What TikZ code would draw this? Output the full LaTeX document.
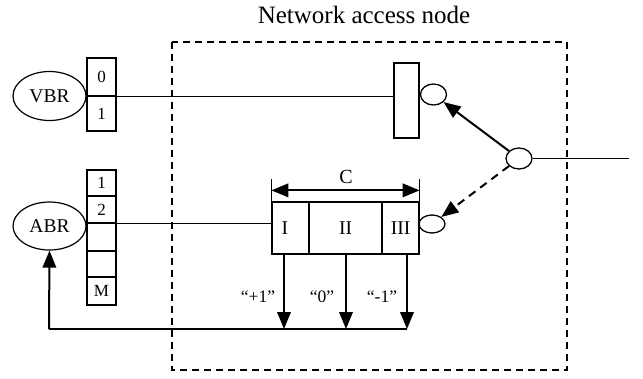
\documentclass[tikz,border=0pt]{standalone}
\usepackage{fontspec}
\setmainfont{Liberation Serif}
\usetikzlibrary{arrows.meta,shapes.geometric,calc}
\begin{document}
\begin{tikzpicture}[x=1pt,y=-1pt,
  ell/.style={draw, ellipse, line width=1.2pt, inner sep=0pt, minimum width=73pt, minimum height=49pt, font=\fontsize{19.5}{19.5}\selectfont},
  port/.style={draw, ellipse, line width=1.3pt, inner sep=0pt, minimum width=26pt, minimum height=21pt},
  cell/.style={draw, rectangle, line width=1.3pt, inner sep=0pt, minimum width=29pt, font=\fontsize{17}{17}\selectfont},
  ccell/.style={draw, rectangle, line width=1.3pt, inner sep=0pt, minimum height=52pt, font=\fontsize{19.5}{19.5}\selectfont},
  wire/.style={line width=1.1pt},
  tip/.tip={Triangle[length=17pt,width=13.5pt]},
  arr/.style={line width=2pt, -tip},
  lbl/.style={inner sep=0pt, font=\fontsize{17.5}{17.5}\selectfont}
]
\useasboundingbox (0,0) rectangle (643,378);

% title and frame
\node[anchor=base, inner sep=0pt, font=\fontsize{25}{25}\selectfont] (title) at (364,23) {Network access node};
\draw[line width=1.8pt, dash pattern=on 7pt off 5pt] (172,42) rectangle (567,370);

% VBR
\node[ell] (vbr) at (49.5,96) {VBR};
\node[cell, minimum height=38pt] (v0) at (101.5,77) {0};
\node[cell, minimum height=35pt] (v1) at (101.5,113.5) {1};

% ABR
\node[ell, minimum height=48pt] (abr) at (49.5,226) {ABR};
\node[cell, minimum height=26pt] (a1) at (101.5,183) {1};
\node[cell, minimum height=27pt] (a2) at (101.5,209.5) {2};
\node[cell, minimum height=28pt] (a3) at (101.5,237) {};
\node[cell, minimum height=26pt] (a4) at (101.5,264) {};
\node[cell, minimum height=28pt] (a5) at (101.5,291) {M};

% VBR path
\node[draw, rectangle, line width=1.3pt, inner sep=0pt, minimum width=25pt, minimum height=75pt] (tall) at (406.5,100.5) {};
\node[port] (p1) at (433.5,94.5) {};
\draw[wire] (v0.south east) -- (v0.south east -| tall.west);

% ABR path: C buffer
\node[ccell, minimum width=37pt, text width=30pt, align=left] (cI) at (290.5,228) {\hspace{6pt}I};
\node[ccell, minimum width=73pt] (cII) at (345.5,228) {II};
\node[ccell, minimum width=37pt] (cIII) at (400.5,228) {III};
\node[port, minimum height=18pt] (p2) at (432,224) {};
\draw[wire] (a2.south east) -- (a2.south east -| cI.west);

% dimension C
\draw[line width=1.3pt] (cI.north west) -- ++(0,-22);
\draw[line width=1.3pt] (cIII.north east) -- ++(0,-22);
\draw[line width=2pt, tip-tip]
  ($(cI.north west)+(0,-11)$) -- ($(cIII.north east)+(0,-11)$);
\node[inner sep=0pt, font=\fontsize{20}{20}\selectfont] (clbl) at (346,177) {C};

% switch
\node[port] (sw) at (519,158.5) {};
\coordinate (out) at (629,158.5);
\draw[wire] (sw.east) -- (out);
\draw[arr] (sw) -- (p1);
\draw[arr, dash pattern=on 8pt off 6pt] (sw) -- (p2);

% feedback arrows
\coordinate (b1) at (284,329);
\coordinate (b2) at (346,329);
\coordinate (b3) at (407,329);
\coordinate (bl) at (49,329);
\draw[arr] (cI.south -| b1) -- (b1);
\draw[arr] (cII.south -| b2) -- (b2);
\draw[arr] (cIII.south -| b3) -- (b3);
\draw[line width=2pt] (b3) -- (bl);
\draw[arr] (bl) -- (abr.south);

\node[lbl] (l1) at (258,297) {“+1”};
\node[lbl] (l2) at (322,297) {“0”};
\node[lbl] (l3) at (382,297) {“-1”};
\end{tikzpicture}
\end{document}
